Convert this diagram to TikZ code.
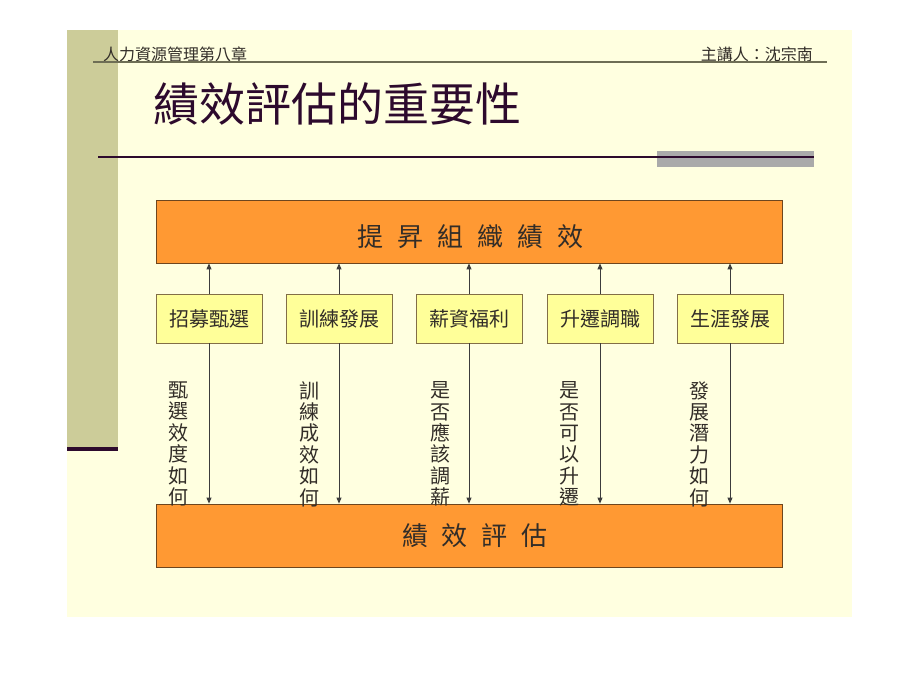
\documentclass[tikz,border=0pt]{standalone}
\usepackage{fontspec}
\newfontfamily\cjk{Noto Sans CJK TC}
\usetikzlibrary{arrows.meta}
\definecolor{slidebg}{RGB}{255,255,224}
\definecolor{olivebar}{RGB}{204,204,153}
\definecolor{darkpurple}{RGB}{45,10,45}
\definecolor{headline}{RGB}{110,110,85}
\definecolor{grayrect}{RGB}{170,170,170}
\definecolor{orangefill}{RGB}{255,153,51}
\definecolor{orangeedge}{RGB}{110,70,30}
\definecolor{boxfill}{RGB}{255,255,153}
\definecolor{boxedge}{RGB}{130,110,70}
\definecolor{txt}{RGB}{50,45,40}
\definecolor{arrowcol}{RGB}{60,60,60}
\tikzset{
  bigbox/.style={draw=orangeedge, line width=0.8pt, fill=orangefill, minimum width=626pt, minimum height=63pt, inner sep=0pt, text=txt, font=\cjk\fontsize{26}{30}\selectfont},
  smallbox/.style={draw=boxedge, line width=0.8pt, fill=boxfill, minimum width=106pt, minimum height=49pt, inner sep=0pt, text=txt, font=\cjk\fontsize{20}{24}\selectfont},
  vtext/.style={inner sep=0pt, align=center, text=txt, font=\cjk\fontsize{20}{21.4}\selectfont},
  arr/.style={draw=arrowcol, line width=0.9pt, -{Triangle[length=6pt,width=5pt]}},
  plain/.style={inner sep=0pt}
}
\begin{document}
\begin{tikzpicture}[x=1pt,y=-1pt]
\useasboundingbox (0,0) rectangle (920,690);
\fill[white] (0,0) rectangle (920,690);
\fill[slidebg] (67,30) rectangle (852,617);
\fill[olivebar] (67,30) rectangle (118,447);
\fill[darkpurple] (67,447) rectangle (118,451);
% header
\node[plain, anchor=west, text=txt, font=\cjk\fontsize{16}{18}\selectfont] (h1) at (103,54) {人力資源管理第八章};
\node[plain, anchor=east, text=txt, font=\cjk\fontsize{16}{18}\selectfont] (h2) at (813,54) {主講人：沈宗南};
\draw[headline, line width=1.2pt] (93,62) -- (827,62);
% title
\node[plain, anchor=west, text=darkpurple, font=\cjk\fontsize{46}{50}\selectfont] (title) at (153,104) {績效評估的重要性};
\fill[grayrect] (657,151) rectangle (814,167);
\draw[darkpurple, line width=2pt] (98,157) -- (814,157);
% big boxes
\node[bigbox, text height=32pt, text depth=3pt] (top) at (469,231.5) {\hspace{3pt}提\hspace{14pt}昇\hspace{14pt}組\hspace{14pt}織\hspace{14pt}績\hspace{14pt}效};
\node[bigbox] (bot) at (469,535.5) {\hspace{12pt}績\hspace{14pt}效\hspace{14pt}評\hspace{14pt}估};
% small boxes
\node[smallbox] (b1) at (209,318.5) {招募甄選};
\node[smallbox] (b2) at (339,318.5) {訓練發展};
\node[smallbox] (b3) at (469,318.5) {薪資福利};
\node[smallbox] (b4) at (600,318.5) {升遷調職};
\node[smallbox] (b5) at (730,318.5) {生涯發展};
% arrows
\foreach \b in {b1,b2,b3,b4,b5}{
  \draw[arr] (\b.north) -- (\b.north |- top.south);
  \draw[arr] (\b.south) -- (\b.south |- bot.north);
}
% vertical labels
\node[vtext] (v1) at (178,444) {甄\\選\\效\\度\\如\\何};
\node[vtext] (v2) at (309,444) {訓\\練\\成\\效\\如\\何};
\node[vtext] (v3) at (440,444) {是\\否\\應\\該\\調\\薪};
\node[vtext] (v4) at (569,444) {是\\否\\可\\以\\升\\遷};
\node[vtext] (v5) at (699,444) {發\\展\\潛\\力\\如\\何};
\end{tikzpicture}
\end{document}
